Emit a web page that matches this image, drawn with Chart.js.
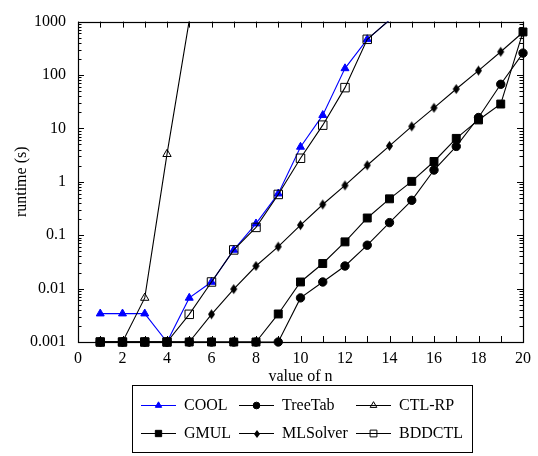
<!DOCTYPE html>
<html><head><meta charset="utf-8">
<script src="https://cdn.jsdelivr.net/npm/chart.js@4/dist/chart.umd.min.js"></script>
<style>html,body{margin:0;padding:0;background:#fff;}</style>
</head><body>
<canvas id="c" width="538" height="456"></canvas>
<script>
const nValues = [1,2,3,4,5,6,7,8,9,10,11,12,13,14,15,16,17,18,19,20];
const cool    = [0.0034,0.0034,0.0034,0.001,0.0067,0.0133,0.053,0.165,0.6,4.5,17.7,133,466,1070,null,null,null,null,null,null];
const treeTab = [0.001,0.001,0.001,0.001,0.001,0.001,0.001,0.001,0.001,0.0067,0.0133,0.0265,0.065,0.172,0.45,1.66,4.6,16,67,257];
const ctlRp   = [0.001,0.001,0.0067,3.3,1050,null,null,null,null,null,null,null,null,null,null,null,null,null,null,null];
const gmul    = [0.001,0.001,0.001,0.001,0.001,0.001,0.001,0.001,0.00335,0.0133,0.0295,0.075,0.21,0.48,1.02,2.4,6.5,14.4,28.6,640];
const mlSolver= [0.001,0.001,0.001,0.001,0.001,0.0033,0.0098,0.0265,0.061,0.154,0.376,0.855,2.04,4.7,10.9,24.3,54.6,121,272,632];
const bddctl  = [0.001,0.001,0.001,0.001,0.0033,0.0133,0.053,0.14,0.58,2.76,11.5,58,466,1070,null,null,null,null,null,null];
const yTickValues = [0.001,0.01,0.1,1,10,100,1000];
const xTickValues = [0,2,4,6,8,10,12,14,16,18,20];
const Y_MAX = 1000;

const FONT = "'Liberation Serif', 'Times New Roman', serif";

function diamondCanvas(w, h, color) {
  const c = document.createElement('canvas');
  c.width = w + 2; c.height = h + 2;
  const g = c.getContext('2d');
  g.beginPath();
  g.moveTo(c.width/2, 1); g.lineTo(c.width-1, c.height/2);
  g.lineTo(c.width/2, c.height-1); g.lineTo(1, c.height/2);
  g.closePath(); g.fillStyle = color; g.fill();
  return c;
}
const diamond = diamondCanvas(7, 10, '#000');
const diamondSmall = diamondCanvas(6, 8, '#000');

function pts(arr) {
  return nValues.map((n, i) => ({x: n, y: arr[i]})).filter(p => p.y !== null);
}
const topClip = {left: false, top: 0, right: false, bottom: false};
function radiusInRange(r) {
  return ctx => (ctx.raw && ctx.raw.y > Y_MAX) ? 0 : r;
}

const datasets = [
  {label: 'COOL', data: pts(cool), borderColor: '#0000ff', backgroundColor: '#0000ff', pointStyle: 'triangle', r: 4.6, clip: topClip, order: 0},
  {label: 'TreeTab', data: pts(treeTab), borderColor: '#000', backgroundColor: '#000', pointStyle: 'circle', r: 4.2, clip: false, order: -1},
  {label: 'CTL-RP', data: pts(ctlRp), borderColor: '#000', backgroundColor: 'rgba(0,0,0,0)', pointStyle: 'triangle', r: 4.8, clip: topClip, order: -2},
  {label: 'GMUL', data: pts(gmul), borderColor: '#000', backgroundColor: '#000', pointStyle: 'rect', r: 5.6, clip: false, order: -3},
  {label: 'MLSolver', data: pts(mlSolver), borderColor: '#000', backgroundColor: '#000', pointStyle: diamond, r: 4, clip: false, order: -4},
  {label: 'BDDCTL', data: pts(bddctl), borderColor: '#000', backgroundColor: 'rgba(0,0,0,0)', pointStyle: 'rect', r: 6, clip: topClip, order: -5}
];
datasets.forEach(d => {
  d.borderWidth = 1.1; d.tension = 0; d.fill = false;
  d.pointBackgroundColor = d.backgroundColor; d.pointBorderColor = d.borderColor;
  d.pointBorderWidth = 1;
  d.pointRadius = radiusInRange(d.r); d.pointHoverRadius = radiusInRange(d.r);
});

const frameTicks = {
  id: 'frameTicks',
  beforeDatasetsDraw(chart) {
    const {ctx, chartArea: a, scales: {x, y}} = chart;
    ctx.save();
    ctx.strokeStyle = '#000';
    ctx.lineWidth = 1;
    ctx.beginPath();
    for (let e = -3; e <= 3; e++) {
      for (let m = 1; m <= 9; m++) {
        const v = m * Math.pow(10, e);
        if (v > Y_MAX * 1.0001) break;
        const py = Math.round(y.getPixelForValue(v)) + 0.5;
        const len = m === 1 ? 6 : 3.5;
        ctx.moveTo(a.left, py); ctx.lineTo(a.left + len, py);
        ctx.moveTo(a.right, py); ctx.lineTo(a.right - len, py);
      }
    }
    for (let n = 0; n <= 20; n++) {
      const px = Math.round(x.getPixelForValue(n)) + 0.5;
      ctx.moveTo(px, a.bottom); ctx.lineTo(px, a.bottom - 6);
      ctx.moveTo(px, a.top); ctx.lineTo(px, a.top + 6);
    }
    ctx.stroke();
    ctx.lineWidth = 1.2;
    ctx.strokeRect(Math.round(a.left) + 0.5, Math.round(a.top) + 0.5, Math.round(a.right - a.left), Math.round(a.bottom - a.top));
    ctx.restore();
  }
};

function drawMarker(ctx, ds, cx, cy, scale) {
  const st = ds.pointStyle;
  const r = ds.r * scale;
  ctx.save();
  ctx.lineWidth = 1;
  ctx.strokeStyle = ds.pointBorderColor;
  ctx.fillStyle = ds.pointBackgroundColor;
  if (st instanceof HTMLCanvasElement) {
    const img = diamondSmall;
    ctx.drawImage(img, Math.round(cx - img.width/2), Math.round(cy - img.height/2));
    ctx.restore(); return;
  }
  ctx.beginPath();
  if (st === 'circle') {
    ctx.arc(cx, cy, r, 0, Math.PI * 2);
  } else if (st === 'rect') {
    const s = Math.SQRT1_2 * r;
    ctx.rect(cx - s, cy - s, 2*s, 2*s);
  } else if (st === 'triangle') {
    let rad = 0;
    ctx.moveTo(cx + Math.sin(rad)*r, cy - Math.cos(rad)*r);
    rad += 2*Math.PI/3;
    ctx.lineTo(cx + Math.sin(rad)*r, cy - Math.cos(rad)*r);
    rad += 2*Math.PI/3;
    ctx.lineTo(cx + Math.sin(rad)*r, cy - Math.cos(rad)*r);
    ctx.closePath();
  }
  ctx.fill();
  ctx.stroke();
  ctx.restore();
}

const boxLegend = {
  id: 'boxLegend',
  afterDraw(chart) {
    const {ctx} = chart;
    const box = {x: 132, y: 385, w: 340, h: 67};
    const rows = [405, 433];
    const sampleStart = [141, 239, 356];
    const sampleLen = 35;
    const textX = [184, 282, 399];
    ctx.save();
    ctx.strokeStyle = '#000'; ctx.lineWidth = 1;
    ctx.strokeRect(box.x + 0.5, box.y + 0.5, box.w, box.h);
    ctx.font = '16px ' + FONT;
    ctx.textBaseline = 'middle';
    ctx.textAlign = 'left';
    chart.data.datasets.forEach((ds, i) => {
      const col = i % 3, row = Math.floor(i / 3);
      const yy = rows[row] + 0.5;
      ctx.strokeStyle = ds.borderColor; ctx.lineWidth = 1.1;
      ctx.beginPath();
      ctx.moveTo(sampleStart[col], yy); ctx.lineTo(sampleStart[col] + sampleLen, yy);
      ctx.stroke();
      drawMarker(ctx, ds, sampleStart[col] + sampleLen/2, yy, 0.8);
      ctx.fillStyle = '#000';
      ctx.fillText(ds.label, textX[col], rows[row] + 1);
    });
    ctx.restore();
  }
};

new Chart(document.getElementById('c'), {
  type: 'line',
  data: {datasets},
  options: {
    responsive: false,
    animation: false,
    events: [],
    layout: {padding: {left: 0, top: 8, right: 12, bottom: 0}},
    plugins: {legend: {display: false}, tooltip: {enabled: false}},
    scales: {
      x: {
        type: 'linear', min: 0, max: 20,
        grid: {display: false, drawTicks: false},
        border: {display: false},
        afterBuildTicks: s => { s.ticks = xTickValues.map(v => ({value: v})); },
        afterFit: s => { s.height = 114; },
        ticks: {color: '#000', font: {family: FONT, size: 16}, padding: 7, maxRotation: 0, autoSkip: false},
        title: {display: true, text: 'value of n', color: '#000', font: {family: FONT, size: 16}, padding: {top: 0, bottom: 70}}
      },
      y: {
        type: 'logarithmic', min: 0.001, max: Y_MAX,
        grid: {display: false, drawTicks: false},
        border: {display: false},
        afterBuildTicks: s => { s.ticks = yTickValues.map(v => ({value: v, major: true})); },
        afterFit: s => { s.width = 78; },
        ticks: {color: '#000', font: {family: FONT, size: 16}, padding: 12, autoSkip: false, callback: v => String(v)},
        title: {display: true, text: 'runtime (s)', color: '#000', font: {family: FONT, size: 16}, padding: {top: 12, bottom: 0}}
      }
    }
  },
  plugins: [frameTicks, boxLegend]
});
</script>
</body></html>
